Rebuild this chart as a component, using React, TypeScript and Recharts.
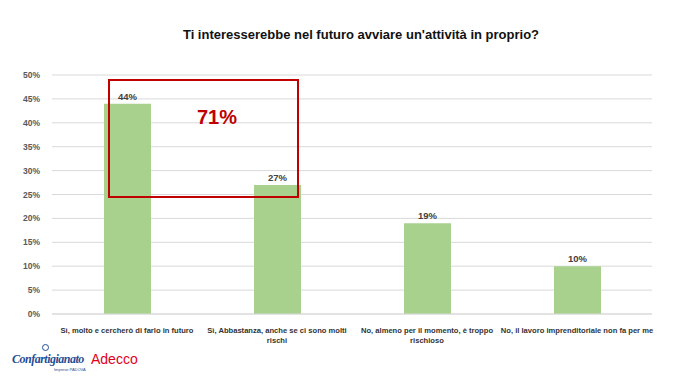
import { BarChart, Bar, XAxis, YAxis, CartesianGrid, LabelList } from "recharts";

// "\n" marks where the reference wraps the category label
const categories = [
  "Sì, molto e cercherò di farlo in futuro",
  "Sì, Abbastanza, anche se ci sono molti\nrischi",
  "No, almeno per il momento, è troppo\nrischioso",
  "No, il lavoro imprenditoriale non fa per me",
];
const shares = [44, 27, 19, 10];
const yTicks = [0, 5, 10, 15, 20, 25, 30, 35, 40, 45, 50];

const title = "Ti interesserebbe nel futuro avviare un'attività in proprio?";
const highlight = "71%";

const data = categories.map((name, i) => ({ name, value: shares[i] }));

const FONT = "'Liberation Sans', Arial, sans-serif";

function CategoryTick(props: any) {
  const { x, y, payload } = props;
  const lines = String(payload.value).split("\n");
  return (
    <text
      x={x}
      y={y + 11}
      textAnchor="middle"
      fontSize={7.6}
      fontWeight="bold"
      fill="#333"
      fontFamily={FONT}
    >
      {lines.map((l, i) => (
        <tspan key={i} x={x} dy={i === 0 ? 0 : 10}>
          {l}
        </tspan>
      ))}
    </text>
  );
}

export default function App() {
  return (
    <div style={{ position: "absolute", left: 0, top: 0, width: 680, height: 383, background: "#fff", fontFamily: FONT }}>
      <div
        style={{
          position: "absolute",
          top: 27,
          left: 0,
          width: 722,
          textAlign: "center",
          fontSize: 13,
          fontWeight: "bold",
          color: "#111",
        }}
      >
        {title}
      </div>
      <BarChart
        width={680}
        height={383}
        data={data}
        margin={{ top: 75, right: 28, bottom: 39, left: 0 }}
        barSize={47}
      >
        <CartesianGrid vertical={false} stroke="#d9d9d9" strokeWidth={1} />
        <XAxis
          dataKey="name"
          height={30}
          tickLine={false}
          axisLine={{ stroke: "#d9d9d9" }}
          interval={0}
          tick={<CategoryTick />}
        />
        <YAxis
          width={52}
          domain={[0, 50]}
          ticks={yTicks}
          tickLine={false}
          axisLine={false}
          tickFormatter={(v: number) => `${v}%`}
          tick={{ fontSize: 8.5, fontWeight: "bold", fill: "#595959", fontFamily: FONT }}
          tickMargin={6}
        />
        <Bar dataKey="value" fill="#a9d18e" isAnimationActive={false}>
          <LabelList
            dataKey="value"
            position="top"
            offset={4}
            formatter={(v: any) => `${v}%`}
            style={{ fontSize: 9.5, fontWeight: "bold", fill: "#404040", fontFamily: FONT }}
          />
        </Bar>
      </BarChart>
      <div
        style={{
          position: "absolute",
          left: 108,
          top: 79,
          width: 191,
          height: 119,
          border: "2px solid #c00000",
          boxSizing: "border-box",
        }}
      />
      <div
        style={{
          position: "absolute",
          left: 177,
          top: 106,
          width: 80,
          textAlign: "center",
          fontSize: 20,
          fontWeight: "bold",
          color: "#c00000",
        }}
      >
        {highlight}
      </div>
      <div style={{ position: "absolute", left: 12, top: 352, color: "#1f4e96", fontStyle: "italic", fontWeight: "bold", fontSize: 12, fontFamily: "'Liberation Serif', serif", letterSpacing: -0.5 }}>
        Confartigianato
      </div>
      <div style={{ position: "absolute", left: 54, top: 367, color: "#1f4e96", fontSize: 4 }}>Imprese PADOVA</div>
      <div style={{ position: "absolute", left: 42, top: 344, width: 7, height: 7, borderRadius: 4, border: "1px solid #1f4e96", boxSizing: "border-box" }} />
      <div style={{ position: "absolute", left: 91, top: 351, color: "#e2001a", fontSize: 14, fontFamily: FONT }}>Adecco</div>
    </div>
  );
}
